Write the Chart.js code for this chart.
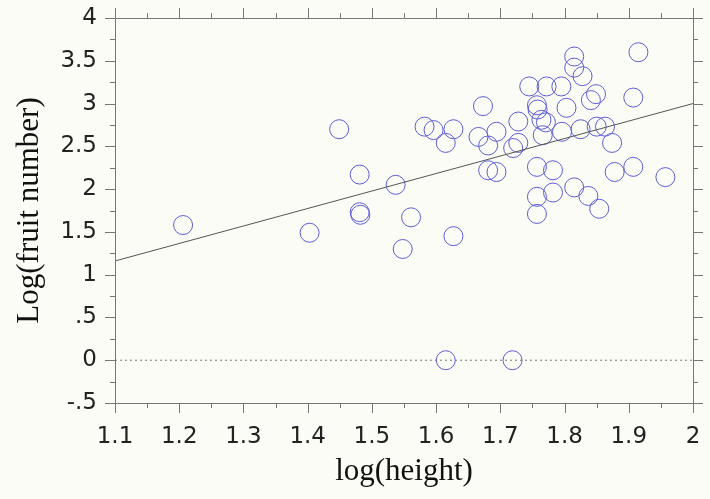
<!DOCTYPE html>
<html>
<head>
<meta charset="utf-8">
<script src="https://cdn.jsdelivr.net/npm/chart.js@4"></script>
<style>
  html, body { margin: 0; padding: 0; background: #fcfcf6; }
  #wrap { width: 710px; height: 499px; }
</style>
</head>
<body>
<div id="wrap"><canvas id="scatterChart" width="710" height="499"></canvas></div>
<script>
// log(height) vs Log(fruit number), one circle per plant
const heightLog = [1.206, 1.403, 1.449, 1.481, 1.481, 1.482, 1.537, 1.548, 1.561, 1.582,
    1.596, 1.615, 1.615, 1.627, 1.627, 1.666, 1.673, 1.681, 1.681, 1.694,
    1.694, 1.719, 1.720, 1.728, 1.728, 1.745, 1.757, 1.758, 1.757, 1.757,
    1.757, 1.764, 1.766, 1.771, 1.772, 1.782, 1.782, 1.795, 1.796, 1.803,
    1.815, 1.815, 1.815, 1.825, 1.828, 1.837, 1.841, 1.849, 1.850, 1.854,
    1.863, 1.874, 1.878, 1.907, 1.907, 1.915, 1.957];
const fruitLog = [1.58, 1.49, 2.70, 2.17, 1.73, 1.70, 2.05, 1.30, 1.67, 2.73,
    2.69, 2.54, 0.00, 2.70, 1.45, 2.61, 2.97, 2.51, 2.22, 2.67,
    2.20, 0.00, 2.48, 2.79, 2.54, 3.20, 2.98, 2.93, 2.26, 1.91,
    1.71, 2.81, 2.63, 2.78, 3.20, 2.22, 1.96, 3.20, 2.67, 2.95,
    3.55, 3.42, 2.02, 2.70, 3.32, 1.92, 3.04, 3.11, 2.73, 1.77,
    2.73, 2.54, 2.20, 3.07, 2.26, 3.60, 2.14];

// fitted line ends and the zero reference line
const fitX = [1.1, 2.0];
const fitY = [1.16, 3.0];
const zeroX = [1.1, 2.0];
const zeroY = [0, 0];

const xMin = 1.1, xMax = 2.0, xStep = 0.1;
const yMin = -0.5, yMax = 4, yStep = 0.5;

const toPoints = (xs, ys) => xs.map((x, i) => ({ x: x, y: ys[i] }));

function yLabel(v) {
    if (v === 0) return "0";
    let s = String(v);
    return s.replace(/^0\./, ".").replace(/^-0\./, "-.");
}

// background + framed box with outward ticks on all four sides
const frame = {
    id: "frame",
    beforeDraw(chart) {
        const ctx = chart.ctx;
        ctx.save();
        ctx.fillStyle = "#fcfcf6";
        ctx.fillRect(0, 0, chart.width, chart.height);
        ctx.restore();
    },
    afterDatasetsDraw(chart) {
        const { ctx, chartArea: a, scales } = chart;
        const xs = scales.x, ys = scales.y;
        ctx.save();
        ctx.strokeStyle = "#777";
        ctx.lineWidth = 1;
        ctx.beginPath();
        ctx.rect(Math.round(a.left) + 0.5, Math.round(a.top) + 0.5, Math.round(a.right - a.left), Math.round(a.bottom - a.top));

        for (let v = xMin, i = 0; v <= xMax + 1e-9; v += xStep / 2, i++) {
            const px = Math.round(xs.getPixelForValue(v)) + 0.5;
            const len = i % 2 === 0 ? 10 : 5;
            ctx.moveTo(px, a.bottom); ctx.lineTo(px, a.bottom + len);
            ctx.moveTo(px, a.top); ctx.lineTo(px, a.top - len);
        }
        for (let v = yMin, i = 0; v <= yMax + 1e-9; v += yStep / 2, i++) {
            const py = Math.round(ys.getPixelForValue(v)) + 0.5;
            const len = i % 2 === 0 ? 10 : 5;
            ctx.moveTo(a.left, py); ctx.lineTo(a.left - len, py);
            ctx.moveTo(a.right, py); ctx.lineTo(a.right + len, py);
        }
        ctx.stroke();
        ctx.restore();
    }
};

const tickFont = { family: "'DejaVu Sans', sans-serif", size: 23 };
const titleFont = { family: "'Liberation Serif', 'Times New Roman', serif", size: 31 };

new Chart(document.getElementById("scatterChart"), {
    type: "scatter",
    data: {
        datasets: [
            {
                label: "zero",
                type: "line",
                data: toPoints(zeroX, zeroY),
                borderColor: "#777",
                borderWidth: 1,
                borderDash: [2, 3],
                pointRadius: 0,
                fill: false
            },
            {
                label: "fit",
                type: "line",
                data: toPoints(fitX, fitY),
                borderColor: "#555",
                borderWidth: 1,
                pointRadius: 0,
                fill: false
            },
            {
                label: "plants",
                data: toPoints(heightLog, fruitLog),
                pointStyle: "circle",
                pointRadius: 9.5,
                pointHoverRadius: 9.5,
                borderWidth: 1,
                borderColor: "#5e5ed6",
                backgroundColor: "rgba(0,0,0,0)"
            }
        ]
    },
    options: {
        responsive: false,
        animation: false,
        events: [],
        layout: { padding: { top: 18, right: 17, left: 0, bottom: 0 } },
        plugins: { legend: { display: false }, tooltip: { enabled: false } },
        scales: {
            x: {
                type: "linear",
                min: xMin, max: xMax,
                grid: { display: false, drawTicks: false },
                border: { display: false },
                ticks: {
                    stepSize: xStep,
                    color: "#222",
                    font: tickFont,
                    padding: 20,
                    maxRotation: 0,
                    callback: v => String(Number(v.toFixed(1)))
                },
                title: {
                    display: true,
                    text: "log(height)",
                    color: "#111",
                    font: titleFont,
                    padding: { top: 0, bottom: 9 }
                },
                afterFit: s => { s.height = 96; s.paddingLeft = 0; s.paddingRight = 0; }
            },
            y: {
                type: "linear",
                min: yMin, max: yMax,
                grid: { display: false, drawTicks: false },
                border: { display: false },
                ticks: {
                    stepSize: yStep,
                    color: "#222",
                    font: tickFont,
                    padding: 18,
                    callback: v => yLabel(v)
                },
                title: {
                    display: true,
                    text: "Log(fruit number)",
                    color: "#111",
                    font: titleFont,
                    padding: { top: 11, bottom: 0 }
                },
                afterFit: s => { s.width = 115; s.paddingTop = 0; s.paddingBottom = 0; }
            }
        }
    },
    plugins: [frame]
});
</script>
</body>
</html>
